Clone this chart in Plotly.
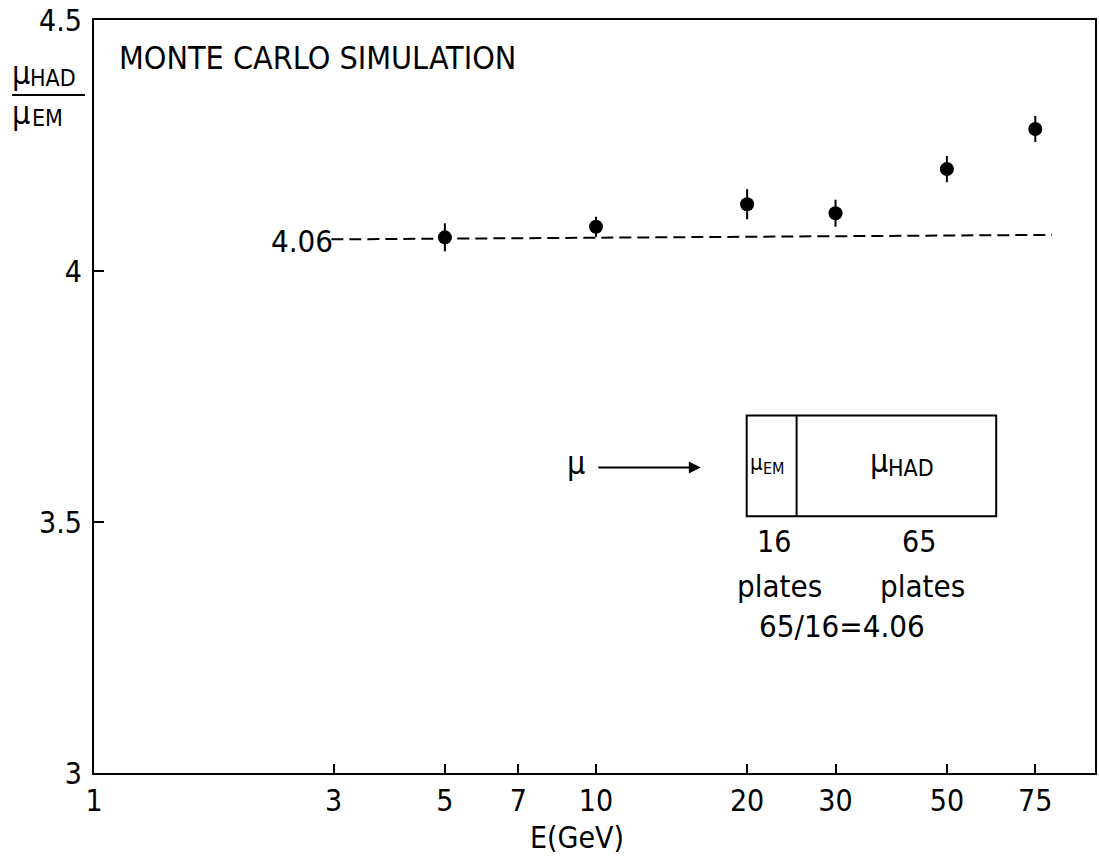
import plotly.graph_objects as go

# ---- data ----
energy = [5, 10, 20, 30, 50, 75]
ratio = [4.067, 4.088, 4.133, 4.115, 4.203, 4.283]
ratio_err = [0.028, 0.02, 0.03, 0.027, 0.026, 0.026]
ref_x = [2.97, 81]
ref_y = [4.063, 4.072]
x_ticks = [1, 3, 5, 7, 10, 20, 30, 50, 75]
y_ticks = [3, 3.5, 4, 4.5]
y_tick_text = ["3", "3.5", "4", "4.5"]

FONT = "DejaVu Sans Condensed, Liberation Sans Narrow, DejaVu Sans, sans-serif"

W, H = 1099, 862
L, R, T, B = 94, 1097, 19, 773


def px(x):
    return (x - L) / (R - L)


def py(y):
    return (B - y) / (B - T)


fig = go.Figure()

fig.add_trace(go.Scatter(
    x=ref_x, y=ref_y, mode="lines",
    line=dict(color="black", width=2, dash="12px,6px"),
    showlegend=False, hoverinfo="skip"))

fig.add_trace(go.Scatter(
    x=energy, y=ratio, mode="markers",
    marker=dict(color="black", size=14, symbol="circle"),
    error_y=dict(type="data", array=ratio_err, color="black", thickness=2, width=0),
    showlegend=False))

annotations = []


def txt(x, y, s, size, xanchor="center", yanchor="middle"):
    annotations.append(dict(
        x=px(x), y=py(y), xref="paper", yref="paper", text=s, showarrow=False,
        xanchor=xanchor, yanchor=yanchor, font=dict(family=FONT, size=size, color="black")))


txt(117, 57, "MONTE CARLO SIMULATION", 32, xanchor="left")
txt(335, 240, "4.06", 31, xanchor="right")
# y-axis title as a fraction: mu_HAD / mu_EM
txt(10, 72, "μ", 32, xanchor="left")
txt(28, 77, "HAD", 23, xanchor="left")
txt(10, 112, "μ", 32, xanchor="left")
txt(30, 117, "EM", 23, xanchor="left")
# x-axis title
txt(578, 838, "E(GeV)", 30)
# inset diagram
txt(577, 463, "μ", 32)
txt(749, 462, "μ", 22, xanchor="left")
txt(762, 468, "EM", 16, xanchor="left")
txt(870, 461, "μ", 32, xanchor="left")
txt(888, 468, "HAD", 23, xanchor="left")
txt(775, 541, "16", 30)
txt(921, 541, "65", 30)
txt(781, 586, "plates", 31)
txt(924, 586, "plates", 31)
txt(843, 626, "65/16=4.06", 31)

annotations.append(dict(
    x=px(702), y=py(467), xref="paper", yref="paper", text="",
    showarrow=True, ax=-104, ay=0, arrowhead=2, arrowsize=1.2,
    arrowwidth=2, arrowcolor="black"))

shapes = [
    dict(type="line", xref="paper", yref="paper", x0=px(12), x1=px(85), y0=py(94), y1=py(94),
         line=dict(color="black", width=2)),
    dict(type="rect", xref="paper", yref="paper", x0=px(748), x1=px(998), y0=py(415), y1=py(516),
         line=dict(color="black", width=2)),
    dict(type="line", xref="paper", yref="paper", x0=px(798), x1=px(798), y0=py(415), y1=py(516),
         line=dict(color="black", width=2)),
]

fig.update_layout(
    width=W, height=H,
    margin=dict(l=L, r=W - R, t=T, b=H - B),
    paper_bgcolor="white", plot_bgcolor="white",
    font=dict(family=FONT, size=26, color="black"),
    annotations=annotations, shapes=shapes, showlegend=False,
)

fig.update_xaxes(
    type="log", range=[0, 1.994],
    tickvals=x_ticks, ticktext=[str(v) for v in x_ticks],
    ticks="inside", ticklen=9, tickwidth=2, tickcolor="black",
    showline=True, linewidth=2, linecolor="black", mirror=True,
    showgrid=False, zeroline=False,
    tickfont=dict(family=FONT, size=30),
)
fig.update_yaxes(
    range=[3, 4.5],
    tickvals=y_ticks, ticktext=y_tick_text,
    ticks="inside", ticklen=10, tickwidth=2, tickcolor="black",
    showline=True, linewidth=2, linecolor="black", mirror=True,
    showgrid=False, zeroline=False, ticklabelstandoff=4,
    tickfont=dict(family=FONT, size=30),
)

fig.write_html("out.html")
